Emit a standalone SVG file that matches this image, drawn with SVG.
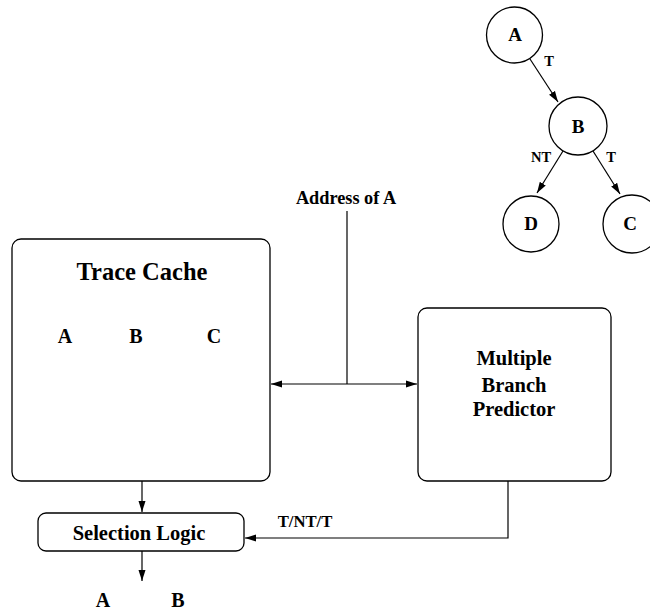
<svg xmlns="http://www.w3.org/2000/svg" width="650" height="614" viewBox="0 0 650 614">
<defs>
<style>
.b{fill:#fff;stroke:#000;stroke-width:1.3}
.l{fill:none;stroke:#000;stroke-width:1.2}
text{font-family:"Liberation Serif","Times New Roman",serif;font-weight:bold;fill:#000;text-anchor:middle}
</style>
<marker id="ah" markerUnits="userSpaceOnUse" markerWidth="12" markerHeight="8" refX="11" refY="4" orient="auto">
<path d="M0,0.5 L11,4 L0,7.5 Z" fill="#000"/>
</marker>
</defs>
<rect width="650" height="614" fill="#fff"/>
<g id="tree">
<g id="nodeA"><circle class="b" cx="514.5" cy="35" r="28"/><text x="515" y="41" font-size="19">A</text></g>
<g id="nodeB"><circle class="b" cx="578" cy="126" r="29"/><text x="578" y="133" font-size="19">B</text></g>
<g id="nodeD"><circle class="b" cx="531" cy="224" r="28"/><text x="531" y="230" font-size="19">D</text></g>
<g id="nodeC"><circle class="b" cx="632" cy="224" r="29"/><text x="630" y="230" font-size="19">C</text></g>
</g>
<g id="traceCache">
<rect class="b" x="12" y="239" width="258" height="242" rx="9"/>
<text x="142" y="280" font-size="24.5">Trace Cache</text>
<text x="65" y="343" font-size="20">A</text>
<text x="136" y="343" font-size="20">B</text>
<text x="214" y="343" font-size="20">C</text>
</g>
<g id="predictor">
<rect class="b" x="418" y="308" width="193" height="173" rx="9"/>
<text x="514" y="365" font-size="20.5">Multiple</text>
<text x="514" y="392" font-size="20.5">Branch</text>
<text x="514" y="416" font-size="20.5">Predictor</text>
</g>
<g id="selection">
<rect class="b" x="38" y="513" width="206" height="38" rx="8"/>
<text x="139" y="540" font-size="20.5">Selection Logic</text>
</g>
<g id="labels">
<text x="346" y="204" font-size="18.3">Address of A</text>
<text x="305" y="527" font-size="16.7">T/NT/T</text>
<text x="103" y="607" font-size="20">A</text>
<text x="178" y="607" font-size="20">B</text>
<text x="549" y="66" font-size="14.5">T</text>
<text x="541" y="162" font-size="14.5">NT</text>
<text x="611" y="162" font-size="14.5">T</text>
</g>
<g id="connectors">
<line class="l" x1="530" y1="59" x2="558" y2="102" marker-end="url(#ah)"/>
<line class="l" x1="563" y1="151" x2="537" y2="193" marker-end="url(#ah)"/>
<line class="l" x1="593" y1="151" x2="620" y2="194" marker-end="url(#ah)"/>
<line class="l" x1="347" y1="211" x2="347" y2="384"/>
<line class="l" x1="347" y1="384" x2="271" y2="384" marker-end="url(#ah)"/>
<line class="l" x1="347" y1="384" x2="417" y2="384" marker-end="url(#ah)"/>
<line class="l" x1="142" y1="481" x2="142" y2="512" marker-end="url(#ah)"/>
<polyline class="l" points="508,481 508,538 245,538" marker-end="url(#ah)"/>
<line class="l" x1="142" y1="551" x2="142" y2="581" marker-end="url(#ah)"/>
</g>
</svg>
